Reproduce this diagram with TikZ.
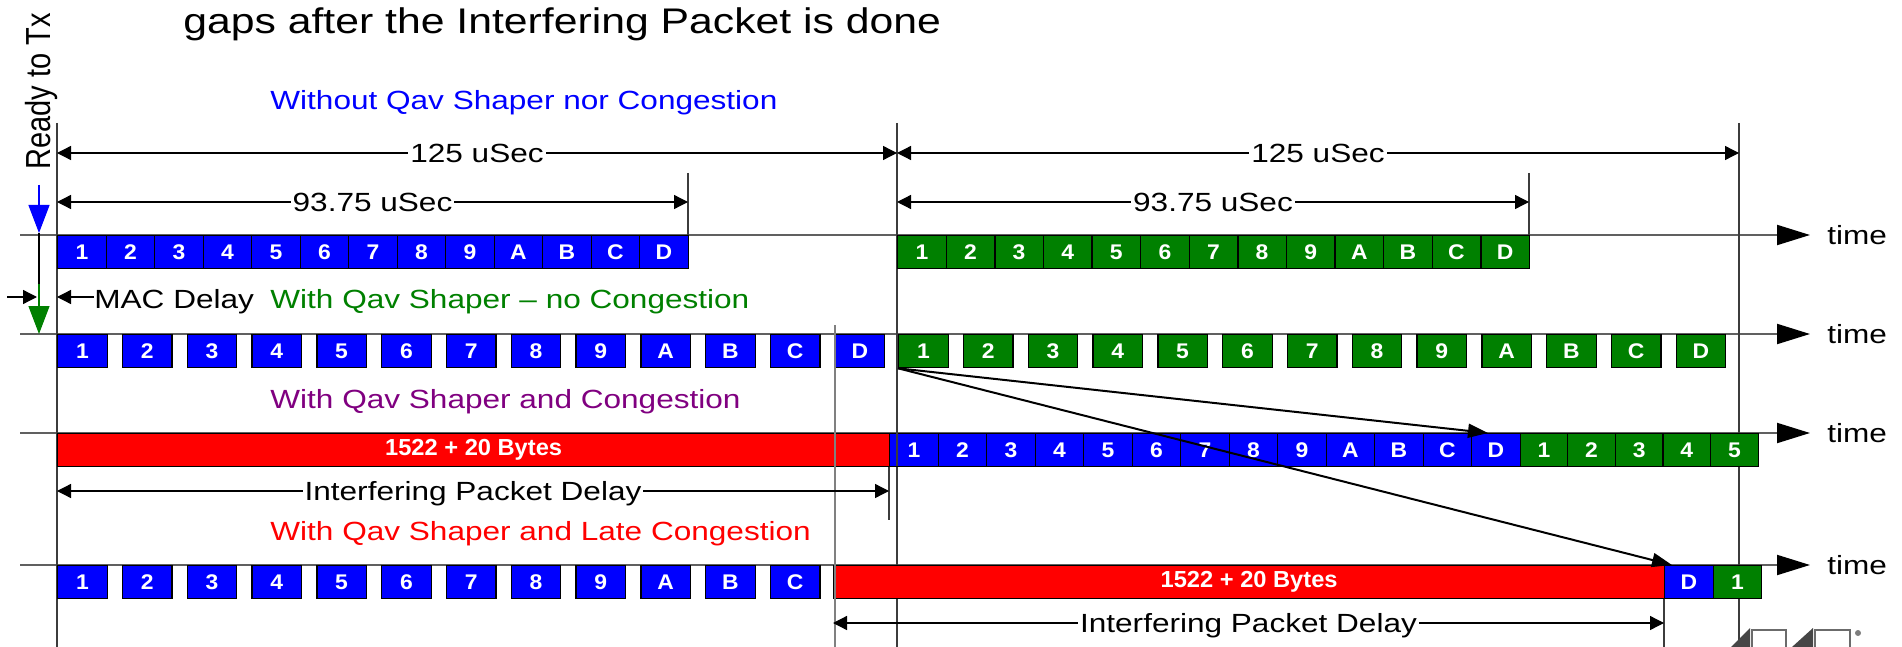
\documentclass[tikz,border=0pt]{standalone}
\usepackage{fontspec}
\setmainfont{Liberation Sans}[FakeStretch=1.2]
\newfontfamily\rotfont{Liberation Sans}
\newfontfamily\bytefont{Liberation Sans}[FakeStretch=1.02]
\newfontfamily\digfont{Liberation Sans}[FakeStretch=1.08]
\usetikzlibrary{arrows.meta}
\definecolor{qblue}{RGB}{0,0,255}
\definecolor{qgreen}{RGB}{0,128,0}
\definecolor{qred}{RGB}{255,0,0}
\definecolor{qpurple}{RGB}{128,0,128}
\definecolor{tlgray}{RGB}{96,96,96}
\definecolor{vgray}{RGB}{60,60,60}
\definecolor{lgray}{RGB}{128,128,128}
\definecolor{logogray}{RGB}{70,70,70}
\newcommand{\lblfont}{\fontsize{13.15pt}{15pt}\selectfont}
\newcommand{\pktfont}{\digfont\fontsize{10.6pt}{12pt}\selectfont\bfseries}
\newcommand{\bytesfont}{\bytefont\fontsize{11.6pt}{13pt}\selectfont\bfseries}
\newcommand{\ttlfont}{\fontsize{17.8pt}{20pt}\selectfont}
\newcommand{\rdyfont}{\rotfont\fontsize{14.5pt}{16pt}\selectfont}
\begin{document}
\begin{tikzpicture}[x=0.5pt,y=-0.5pt,
  lbl/.style={inner sep=0pt, anchor=base west, font=\lblfont},
  pkt/.style={draw=black, line width=0.65pt, inner sep=0pt, anchor=north west, minimum height=16.5pt, text=white, font=\pktfont},
  pa/.style={pkt, minimum width=24.25pt},
  pb/.style={pkt, minimum width=24.75pt},
  pc/.style={pkt, minimum width=23.8pt},
  bytes/.style={pkt, fill=qred, font=\bytesfont},
  tl/.style={draw=tlgray, line width=1pt, -{Triangle[length=16.5pt,width=10pt,color=black]}},
  vl/.style={draw=vgray, line width=0.6pt},
  dim/.style={line width=0.65pt, {Triangle[length=7pt,width=7pt]}-{Triangle[length=7pt,width=7pt]}},
  dimlbl/.style={fill=white, inner xsep=1pt, inner ysep=0pt, text height=9.6pt, text depth=0pt, font=\lblfont},
  diag/.style={line width=1pt, -{Triangle[length=10pt,width=7pt]}},
  rdy/.style={line width=0.6pt, -{Triangle[length=14pt,width=10.5pt]}}
]
\useasboundingbox (0,0) rectangle (1902,647);

% title
\node[inner sep=0pt, anchor=base west, font=\ttlfont] (title) at (183,33.5) {gaps after the Interfering Packet is done};

% ready to tx
\node[rotate=90, anchor=base, inner sep=0pt, font=\rdyfont] (ready) at (50,91.5) {\scalebox{1}[1.2]{Ready to Tx}};

% timelines
\foreach \n/\y in {1/235,2/334,3/433,4/565}{
  \coordinate (t\n s) at (20,\y);
  \coordinate (t\n e) at (1810,\y);
  \draw[tl] (t\n s) -- (t\n e);
  \node[lbl] (time\n) at (1827,\y+9) {time};
}

% guide lines behind boxes
\coordinate (v1a) at (57,123);   \coordinate (v1b) at (57,647);
\coordinate (v2a) at (897,123);  \coordinate (v2b) at (897,647);
\coordinate (v3a) at (1739,123); \coordinate (v3b) at (1739,647);
\coordinate (v4a) at (688,173);  \coordinate (v4b) at (688,268);
\coordinate (v5a) at (1529,173); \coordinate (v5b) at (1529,268);
\coordinate (v7a) at (889,433);  \coordinate (v7b) at (889,520);
\coordinate (v8a) at (1664,565); \coordinate (v8b) at (1664,647);
\foreach \n in {1,2,3,4,5,7,8}{\draw[vl] (v\n a) -- (v\n b);}

% row 1
\foreach \l [count=\i from 0] in {1,2,3,4,5,6,7,8,9,A,B,C,D}{
  \node[pa, fill=qblue] (r1b\l) at ({57+48.5*\i},235) {\l};
  \node[pa, fill=qgreen] (r1g\l) at ({897+48.6*\i},235) {\l};
}
% row 2
\foreach \l [count=\i from 0] in {1,2,3,4,5,6,7,8,9,A,B,C,D}{
  \node[pb, fill=qblue] (r2b\l) at ({57+64.8*\i},334) {\l};
  \node[pb, fill=qgreen] (r2g\l) at ({898+64.8*\i},334) {\l};
}
% row 3
\node[bytes, minimum width=416pt] (r3red) at (57,433) {1522 + 20 Bytes};
\foreach \l [count=\i from 0] in {1,2,3,4,5,6,7,8,9,A,B,C,D}{
  \node[pa, fill=qblue] (r3b\l) at ({889+48.5*\i},433) {\l};
}
\foreach \l [count=\i from 0] in {1,2,3,4,5}{
  \node[pc, fill=qgreen] (r3g\l) at ({1519.5+47.6*\i},433) {\l};
}
% row 4
\foreach \l [count=\i from 0] in {1,2,3,4,5,6,7,8,9,A,B,C}{
  \node[pb, fill=qblue] (r4b\l) at ({57+64.8*\i},565) {\l};
}
\node[bytes, minimum width=415.5pt] (r4red) at (833,565) {1522 + 20 Bytes};
\node[pa, fill=qblue] (r4bD) at (1664,565) {D};
\node[pa, fill=qgreen] (r4g1) at (1712.5,565) {1};

% guide lines in front
\coordinate (v6a) at (835,325); \coordinate (v6b) at (835,647);
\draw[draw=lgray, line width=0.7pt] (v6a) -- (v6b);
\coordinate (v2c) at (897,433); \coordinate (v2d) at (897,466);
\draw[vl] (v2c) -- (v2d);

% dimension arrows
\coordinate (d1a) at (57,153);  \coordinate (d1b) at (897,153);
\coordinate (d2a) at (897,153); \coordinate (d2b) at (1739,153);
\coordinate (d3a) at (57,202);  \coordinate (d3b) at (688,202);
\coordinate (d4a) at (897,202); \coordinate (d4b) at (1529,202);
\coordinate (d5a) at (57,491);  \coordinate (d5b) at (889,491);
\coordinate (d6a) at (833,623); \coordinate (d6b) at (1664,623);
\draw[dim] (d1a) -- node[dimlbl] {125 uSec} (d1b);
\draw[dim] (d2a) -- node[dimlbl] {125 uSec} (d2b);
\draw[dim] (d3a) -- node[dimlbl] {93.75 uSec} (d3b);
\draw[dim] (d4a) -- node[dimlbl] {93.75 uSec} (d4b);
\draw[dim] (d5a) -- node[dimlbl] {Interfering Packet Delay} (d5b);
\draw[dim] (d6a) -- node[dimlbl] {Interfering Packet Delay} (d6b);

% scenario labels
\node[lbl, text=qblue] (lab1) at (270,110) {Without Qav Shaper nor Congestion};
\node[lbl, text=qgreen] (lab2) at (270,308) {With Qav Shaper -- no Congestion};
\node[lbl, text=qpurple] (lab3) at (270,408) {With Qav Shaper and Congestion};
\node[lbl, text=qred] (lab4) at (270,540) {With Qav Shaper and Late Congestion};

% MAC delay
\node[lbl] (mac) at (94,308) {MAC Delay};
\coordinate (m1) at (7,297); \coordinate (m2) at (37,297); \coordinate (m3) at (57,297);
\draw[line width=0.65pt, -{Triangle[length=7pt,width=7pt]}] (m1) -- (m2);
\draw[line width=0.65pt, -{Triangle[length=7pt,width=7pt]}] (mac.west |- m3) -- (m3);

% ready to tx arrows
\coordinate (a0) at (39,185); \coordinate (a1) at (39,233);
\coordinate (a2) at (39,284); \coordinate (a3) at (39,334);
\draw[rdy, draw=qblue, fill=qblue] (a0) -- (a1);
\draw[line width=0.6pt] (a1) -- (a2);
\draw[rdy, draw=qgreen, fill=qgreen] (a2) -- (a3);

% diagonal arrows
\draw[diag] (r2g1.south west) -- ([xshift=8.5pt]r3bD.north west);
\draw[diag] (r2g1.south west) -- ([xshift=4pt]r4bD.north west);

% logo fragment
\fill[logogray] (1731,647) -- (1750,628) -- (1750,647) -- cycle;
\draw[logogray!80, line width=1.2pt] (1752,647) -- (1752,630) -- (1786,630) -- (1786,647);
\fill[logogray] (1792,647) -- (1813,628) -- (1813,647) -- cycle;
\draw[logogray!80, line width=1.2pt] (1815,647) -- (1815,630) -- (1850,630) -- (1850,647);
\fill[logogray!70] (1858,633) circle (3);
\end{tikzpicture}
\end{document}
